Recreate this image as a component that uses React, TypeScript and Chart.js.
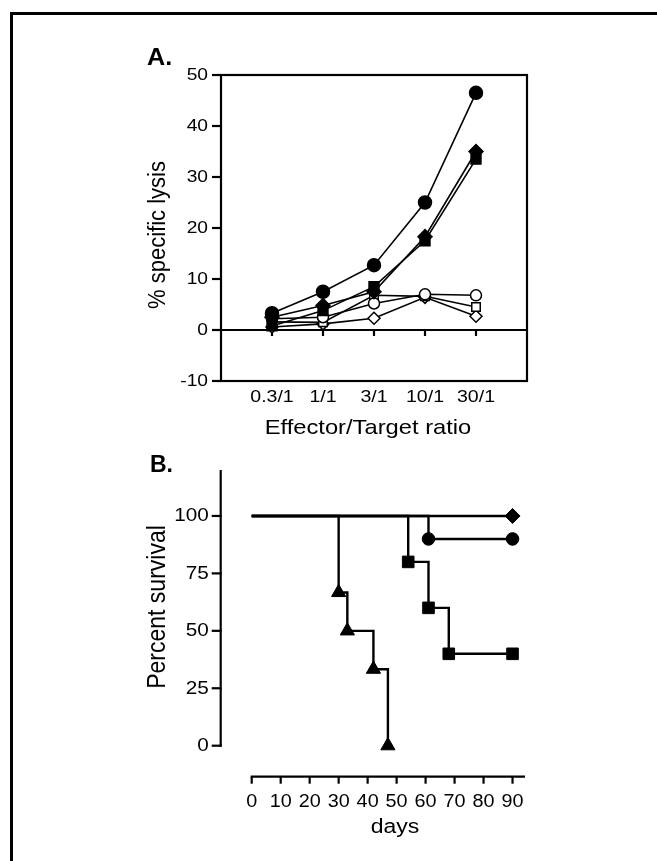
import React, { useEffect, useRef } from 'react';
import { Chart, registerables } from 'chart.js';
Chart.register(...registerables);

const FONT = "'Liberation Sans', Arial, Helvetica, sans-serif";

// ---------- Panel A data ----------
const ratioLabels = ['0.3/1', '1/1', '3/1', '10/1', '30/1'];
const lysisFilledCircle = [3.3, 7.5, 12.7, 25.0, 46.5];
const lysisFilledDiamond = [2.5, 4.8, 7.5, 18.3, 35.0];
const lysisFilledSquare = [0.8, 3.8, 8.5, 17.5, 33.5];
const lysisOpenCircle = [2.2, 2.5, 5.2, 7.0, 6.8];
const lysisOpenSquare = [1.6, 1.5, 6.8, 6.6, 4.5];
const lysisOpenDiamond = [0.6, 1.2, 2.3, 6.4, 2.7];
const lysisTicks = [-10, 0, 10, 20, 30, 40, 50];

// ---------- Panel B data ----------
const survDiamondDays = [0, 90];
const survDiamondPct = [100, 100];
const survCircleDays = [0, 61, 90];
const survCirclePct = [100, 90, 90];
const survSquareDays = [0, 54, 61, 68, 90];
const survSquarePct = [100, 80, 60, 40, 40];
const survTriangleDays = [0, 30, 33, 42, 47];
const survTrianglePct = [100, 66.7, 50, 33.3, 0];
const survivalTicks = [0, 25, 50, 75, 100];
const dayTicks = [0, 10, 20, 30, 40, 50, 60, 70, 80, 90];

function txt(ctx: CanvasRenderingContext2D, s: string, x: number, y: number, font: string,
  align: CanvasTextAlign, baseline: CanvasTextBaseline, sx = 1, rot = 0, sy = 1) {
  ctx.save();
  ctx.translate(x, y);
  if (rot) ctx.rotate(rot);
  ctx.scale(sx, sy);
  ctx.font = font;
  ctx.textAlign = align;
  ctx.textBaseline = baseline;
  ctx.fillStyle = '#000';
  ctx.fillText(s, 0, 0);
  ctx.restore();
}

function seg(ctx: CanvasRenderingContext2D, x1: number, y1: number, x2: number, y2: number) {
  ctx.beginPath();
  ctx.moveTo(x1, y1);
  ctx.lineTo(x2, y2);
  ctx.stroke();
}

const axesA = {
  id: 'axesA',
  beforeDatasetsDraw(chart: any) {
    const { ctx, chartArea, scales } = chart;
    const { left, right, top, bottom } = chartArea;
    const x = scales.x, y = scales.y;
    ctx.save();
    ctx.strokeStyle = '#000';
    ctx.lineWidth = 2.2;
    ctx.strokeRect(left, top, right - left, bottom - top);
    const y0 = y.getPixelForValue(0);
    seg(ctx, left, y0, right, y0);
    ratioLabels.forEach((lab, i) => {
      const px = x.getPixelForValue(i + 1);
      seg(ctx, px, y0, px, y0 + 6);
      txt(ctx, lab, px, bottom + 16, `17px ${FONT}`, 'center', 'middle', 1.15);
    });
    lysisTicks.forEach((v) => {
      const py = y.getPixelForValue(v);
      seg(ctx, left - 9, py, left, py);
      txt(ctx, String(v), left - 13, py + 0.5, `16px ${FONT}`, 'right', 'middle', 1.2);
    });
    txt(ctx, 'Effector/Target ratio', (left + right) / 2 - 6, bottom + 47, `21px ${FONT}`, 'center', 'middle', 1.13);
    txt(ctx, '% specific lysis', 159, 235, `22px ${FONT}`, 'center', 'middle', 1, -Math.PI / 2, 1.05);
    txt(ctx, 'A.', 147, 65, `bold 24px ${FONT}`, 'left', 'alphabetic', 1.05);
    ctx.restore();
  },
};

const axesB = {
  id: 'axesB',
  beforeDatasetsDraw(chart: any) {
    const { ctx, chartArea, scales } = chart;
    const { left, right, top, bottom } = chartArea;
    const x = scales.x, y = scales.y;
    const ax = left - 31;
    const ay = bottom + 31;
    ctx.save();
    ctx.strokeStyle = '#000';
    ctx.lineWidth = 2.2;
    seg(ctx, ax, top, ax, bottom + 1);
    survivalTicks.forEach((v) => {
      const py = y.getPixelForValue(v);
      seg(ctx, ax - 9, py, ax + 1, py);
      txt(ctx, String(v), ax - 12, py + 0.5, `18px ${FONT}`, 'right', 'middle', 1.15);
    });
    seg(ctx, x.getPixelForValue(0) - 1, ay, right, ay);
    dayTicks.forEach((d) => {
      const px = x.getPixelForValue(d);
      seg(ctx, px, ay, px, ay + 7);
      txt(ctx, String(d), px, ay + 25, `18px ${FONT}`, 'center', 'middle', 1.1);
    });
    txt(ctx, 'days', 395, ay + 51, `20px ${FONT}`, 'center', 'middle', 1.15);
    txt(ctx, 'Percent survival', 158, 607, `23px ${FONT}`, 'center', 'middle', 1, -Math.PI / 2, 1.15);
    txt(ctx, 'B.', 150, 472, `bold 23px ${FONT}`, 'left', 'alphabetic', 1.0);
    ctx.restore();
  },
};

function lysisSet(values: number[], style: string, filled: boolean, radius: number) {
  return {
    data: values.map((v, i) => ({ x: i + 1, y: v })),
    borderColor: '#000',
    borderWidth: 1.6,
    pointStyle: style,
    pointRadius: radius,
    pointBackgroundColor: filled ? '#000' : '#fff',
    pointBorderColor: '#000',
    pointBorderWidth: 1.5,
    fill: false,
    tension: 0,
    clip: false,
  };
}

function survSet(days: number[], pct: number[], style: string, radius: number) {
  return {
    data: days.map((d, i) => ({ x: d, y: pct[i] })),
    borderColor: '#000',
    borderWidth: 2.4,
    stepped: true,
    pointStyle: style,
    pointRadius: days.map((_, i) => (i === 0 ? 0 : radius)),
    pointBackgroundColor: '#000',
    pointBorderColor: '#000',
    pointBorderWidth: 1,
    fill: false,
    clip: false,
  };
}

const baseOptions = (padding: any, xr: [number, number], yr: [number, number]) => ({
  responsive: false,
  maintainAspectRatio: false,
  animation: false,
  devicePixelRatio: 1,
  events: [],
  layout: { padding },
  plugins: { legend: { display: false }, tooltip: { enabled: false } },
  scales: {
    x: { type: 'linear', display: false, min: xr[0], max: xr[1] },
    y: { type: 'linear', display: false, min: yr[0], max: yr[1] },
  },
});

export default function App() {
  const refA = useRef<HTMLCanvasElement>(null);
  const refB = useRef<HTMLCanvasElement>(null);

  useEffect(() => {
    const chartA = new Chart(refA.current as HTMLCanvasElement, {
      type: 'line',
      data: {
        datasets: [
          lysisSet(lysisFilledCircle, 'circle', true, 6.5),
          lysisSet(lysisFilledDiamond, 'rectRot', true, 7),
          lysisSet(lysisFilledSquare, 'rect', true, 7),
          lysisSet(lysisOpenCircle, 'circle', false, 5.5),
          lysisSet(lysisOpenSquare, 'rect', false, 6),
          lysisSet(lysisOpenDiamond, 'rectRot', false, 6),
        ] as any,
      },
      options: baseOptions({ left: 221, top: 75, right: 130, bottom: 480 }, [0, 6], [-10, 50]) as any,
      plugins: [axesA],
    });
    const chartB = new Chart(refB.current as HTMLCanvasElement, {
      type: 'line',
      data: {
        datasets: [
          survSet(survDiamondDays, survDiamondPct, 'rectRot', 7.5),
          survSet(survCircleDays, survCirclePct, 'circle', 6.3),
          survSet(survSquareDays, survSquarePct, 'rect', 8.2),
          survSet(survTriangleDays, survTrianglePct, 'triangle', 8.2),
        ] as any,
      },
      options: baseOptions({ left: 251.7, top: 470, right: 132, bottom: 115.3 }, [0, 94.3], [0, 120]) as any,
      plugins: [axesB],
    });
    return () => {
      chartA.destroy();
      chartB.destroy();
    };
  }, []);

  return (
    <div style={{ position: 'absolute', left: 0, top: 0, width: 657, height: 861, overflow: 'hidden', background: '#fff' }}>
      <div style={{ position: 'absolute', left: 10, top: 12, width: 700, height: 900, border: '3px solid #000', boxSizing: 'border-box' }} />
      <canvas ref={refA} width={657} height={861} style={{ position: 'absolute', left: 0, top: 0 }} />
      <canvas ref={refB} width={657} height={861} style={{ position: 'absolute', left: 0, top: 0 }} />
    </div>
  );
}
